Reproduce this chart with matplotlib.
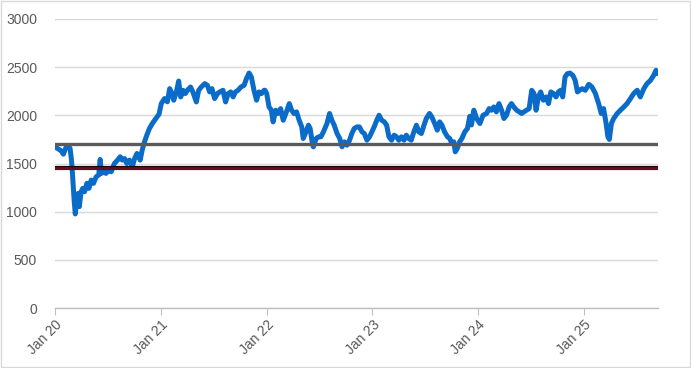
import matplotlib.pyplot as plt
import matplotlib.dates as mdates
import matplotlib.patheffects as pe
import pandas as pd

# values
dates = [
    '2020-01-02', '2020-01-10', '2020-01-22', '2020-01-30', '2020-02-08', '2020-02-17',
    '2020-02-22', '2020-02-27', '2020-03-02', '2020-03-07', '2020-03-11', '2020-03-16',
    '2020-03-21', '2020-03-25', '2020-03-31', '2020-04-06', '2020-04-12', '2020-04-20',
    '2020-04-27', '2020-05-05', '2020-05-13', '2020-05-22', '2020-05-31', '2020-06-05',
    '2020-06-09', '2020-06-16', '2020-06-25', '2020-07-05', '2020-07-13', '2020-07-24',
    '2020-08-04', '2020-08-13', '2020-08-20', '2020-08-28', '2020-09-05', '2020-09-14',
    '2020-09-24', '2020-10-02', '2020-10-10', '2020-10-17', '2020-10-21', '2020-10-28',
    '2020-11-05', '2020-11-13', '2020-11-22', '2020-12-02', '2020-12-10', '2020-12-18',
    '2020-12-25',
    '2021-01-02', '2021-01-13', '2021-01-23', '2021-01-31', '2021-02-08', '2021-02-14',
    '2021-02-23', '2021-03-03', '2021-03-10', '2021-03-18', '2021-03-26', '2021-04-04',
    '2021-04-13', '2021-04-21', '2021-05-03', '2021-05-11', '2021-05-20', '2021-06-01',
    '2021-06-10', '2021-06-18', '2021-06-26', '2021-07-05', '2021-07-15', '2021-07-23',
    '2021-08-03', '2021-08-12', '2021-08-21', '2021-08-30', '2021-09-07', '2021-09-15',
    '2021-09-24', '2021-10-04', '2021-10-15', '2021-10-23', '2021-11-01', '2021-11-09',
    '2021-11-18', '2021-11-27', '2021-12-05', '2021-12-14', '2021-12-23', '2021-12-26',
    '2022-01-01', '2022-01-09', '2022-01-17', '2022-01-23', '2022-02-01', '2022-02-09',
    '2022-02-18', '2022-02-27', '2022-03-08', '2022-03-20', '2022-03-28', '2022-04-05',
    '2022-04-14', '2022-04-23', '2022-05-02', '2022-05-07', '2022-05-17', '2022-05-25',
    '2022-05-31', '2022-06-06', '2022-06-11', '2022-06-21', '2022-06-29', '2022-07-07',
    '2022-07-16', '2022-07-28', '2022-08-06', '2022-08-14', '2022-08-22', '2022-09-01',
    '2022-09-10', '2022-09-18', '2022-09-26', '2022-10-05', '2022-10-14', '2022-10-22',
    '2022-10-30', '2022-11-08', '2022-11-17', '2022-11-26', '2022-12-04', '2022-12-13',
    '2022-12-22', '2022-12-30',
    '2023-01-07', '2023-01-16', '2023-01-24', '2023-02-02', '2023-02-11', '2023-02-19',
    '2023-02-27', '2023-03-08', '2023-03-17', '2023-03-25', '2023-04-02', '2023-04-11',
    '2023-04-20', '2023-04-28', '2023-05-06', '2023-05-15', '2023-05-24', '2023-06-02',
    '2023-06-10', '2023-06-19', '2023-06-28', '2023-07-06', '2023-07-17', '2023-07-25',
    '2023-08-04', '2023-08-13', '2023-08-21', '2023-08-29', '2023-09-07', '2023-09-17',
    '2023-09-25', '2023-10-02', '2023-10-09', '2023-10-14', '2023-10-21', '2023-10-29',
    '2023-11-06', '2023-11-16', '2023-11-25', '2023-12-03', '2023-12-09', '2023-12-17',
    '2023-12-27',
    '2024-01-07', '2024-01-18', '2024-01-30', '2024-02-08', '2024-02-16', '2024-02-24',
    '2024-03-04', '2024-03-13', '2024-03-22', '2024-03-30', '2024-04-08', '2024-04-17',
    '2024-04-25', '2024-05-03', '2024-05-13', '2024-05-22', '2024-05-30', '2024-06-07',
    '2024-06-16', '2024-06-25', '2024-07-04', '2024-07-12', '2024-07-19', '2024-07-27',
    '2024-08-04', '2024-08-13', '2024-08-23', '2024-08-31', '2024-09-08', '2024-09-17',
    '2024-09-26', '2024-10-04', '2024-10-12', '2024-10-19', '2024-10-27', '2024-11-04',
    '2024-11-13', '2024-11-23', '2024-12-01', '2024-12-09', '2024-12-16', '2024-12-25',
    '2025-01-05', '2025-01-17', '2025-01-28', '2025-02-09', '2025-02-20', '2025-03-01',
    '2025-03-09', '2025-03-17', '2025-03-24', '2025-03-29', '2025-04-05', '2025-04-13',
    '2025-04-25', '2025-05-06', '2025-05-18', '2025-05-29', '2025-06-10', '2025-06-21',
    '2025-07-03', '2025-07-14', '2025-07-26', '2025-08-06', '2025-08-18', '2025-08-29',
    '2025-09-06', '2025-09-13',
]
prices = [
    1667, 1656, 1632, 1597, 1667, 1680,
    1656, 1535, 1362, 1121, 976, 1121,
    1190, 1052, 1207, 1242, 1207, 1294,
    1242, 1328, 1294, 1362, 1380, 1542,
    1397, 1414, 1397, 1432, 1414, 1500,
    1535, 1570, 1535, 1552, 1500, 1535,
    1466, 1552, 1604, 1570, 1535, 1639,
    1725, 1794, 1863, 1915, 1950, 1983,
    2011,
    2122, 2174, 2140, 2277, 2226, 2157,
    2243, 2356, 2191, 2260, 2226, 2267,
    2294, 2243, 2139, 2260, 2294, 2329,
    2312, 2243, 2277, 2174, 2226, 2243,
    2260, 2139, 2226, 2243, 2191, 2243,
    2260, 2294, 2312, 2381, 2439, 2398,
    2260, 2157, 2243, 2226, 2260, 2260,
    2226, 2087, 2053, 1932, 2053, 2019,
    2070, 1949, 2018, 2122, 2053, 2019,
    2036, 1949, 1880, 1760, 1829, 1898,
    1863, 1742, 1673, 1760, 1777, 1777,
    1829, 1915, 2019, 1949, 1898, 1811,
    1760, 1673, 1725, 1690, 1742, 1811,
    1863, 1880, 1880, 1829, 1811, 1742,
    1777, 1829,
    1880, 1949, 2001, 1949, 1932, 1898,
    1777, 1742, 1794, 1777, 1742, 1777,
    1742, 1794, 1760, 1742, 1829, 1898,
    1829, 1811, 1898, 1967, 2019, 1984,
    1915, 1846, 1932, 1898, 1829, 1777,
    1760, 1708, 1725, 1621, 1656, 1725,
    1760, 1829, 1863, 1990, 1900, 2053,
    1967,
    1915, 2001, 2019, 2070, 2053, 2087,
    2036, 2122, 2053, 1967, 2001, 2087,
    2122, 2087, 2053, 2036, 2019, 2036,
    2053, 2070, 2260, 2226, 2053, 2191,
    2243, 2157, 2191, 2122, 2243, 2226,
    2191, 2243, 2260, 2191, 2398, 2432,
    2439, 2415, 2363, 2243, 2260, 2277,
    2260, 2322, 2294, 2226, 2122, 2019,
    2070, 1932, 1777, 1750, 1915, 1967,
    2019, 2053, 2087, 2122, 2174, 2226,
    2260, 2191, 2277, 2329, 2363, 2415,
    2467, 2432,
]
upper_level = 1700
lower_level = 1450

df = pd.DataFrame({'Date': pd.to_datetime(dates), 'Price': prices})

fig = plt.figure(figsize=(6.91, 3.68), dpi=100)
ax = fig.add_axes([55 / 691, 1 - 308 / 368, 603 / 691, 289 / 368])

ax.plot(df['Date'], df['Price'], color='#0A6CC8', linewidth=3.6,
        solid_joinstyle='round', solid_capstyle='round', zorder=3)
ax.axhline(upper_level, color='#5A5A5A', linewidth=2.4, zorder=4)
ax.axhline(lower_level, color='#6A0C22', linewidth=2.0, zorder=4,
           path_effects=[pe.Stroke(linewidth=3.0, foreground='#1A0408'), pe.Normal()])

ax.set_xlim(pd.Timestamp('2020-01-01'), df['Date'].iloc[-1])
ax.set_ylim(0, 3000)
ax.set_yticks(range(0, 3001, 500))
ax.xaxis.set_major_locator(mdates.YearLocator())
ax.xaxis.set_major_formatter(mdates.DateFormatter('%b %y'))

ax.grid(axis='y', color='#D9D9D9', linewidth=1.0, zorder=0)
ax.set_axisbelow(True)
for side in ['top', 'right', 'left']:
    ax.spines[side].set_visible(False)
ax.spines['bottom'].set_color('#BFBFBF')
ax.spines['bottom'].set_linewidth(1.0)

ax.tick_params(axis='y', length=0, pad=13, labelsize=10, labelcolor='#595959')
ax.tick_params(axis='x', length=5, color='#BFBFBF', pad=2, labelsize=10, labelcolor='#595959')
for lbl in ax.get_yticklabels() + ax.get_xticklabels():
    lbl.set_fontfamily('Liberation Sans')
for lbl in ax.get_xticklabels():
    lbl.set_rotation(45)
    lbl.set_ha('right')
    lbl.set_va('top')
    lbl.set_rotation_mode('anchor')

# light frame round the whole chart
fig.patches.append(plt.Rectangle((0.001, 0.002), 0.997, 0.995, transform=fig.transFigure,
                                 fill=False, edgecolor='#D9D9D9', linewidth=1.0))

fig.savefig('out.png', dpi=100)
